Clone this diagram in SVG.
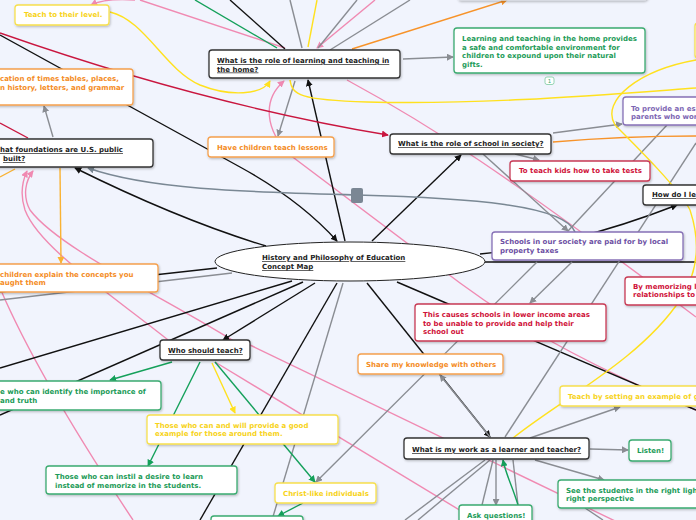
<svg xmlns="http://www.w3.org/2000/svg" width="696" height="520" viewBox="0 0 696 520">
<style>
.t{font-family:"DejaVu Sans","Verdana",sans-serif;font-weight:bold;font-size:7px}
.u{text-decoration:underline;fill:#222}
.box{fill:#fff;stroke-width:1.3;filter:url(#sh)}
.bk{stroke:#333}.yl{stroke:#f7e04e}.or{stroke:#f5a04e}.gr{stroke:#3aaa70}.rd{stroke:#c83a55}.pu{stroke:#8670b6}
.tyl{fill:#f7d31a}.tor{fill:#f48c25}.tgr{fill:#1c9b58}.trd{fill:#cf1239}.tpu{fill:#6d4fa3}.tpu2{fill:#7d66b3}
.c{fill:none;stroke-width:1.4}
.cb{stroke:#111}.cg{stroke:#8a8d93}.cs{stroke:#7a8894;stroke-width:1.6}.cp{stroke:#f08ab2}.cr{stroke:#c9163f}.co{stroke:#f7932a}.ca{stroke:#f9b233}.cy{stroke:#ffe11f}.cn{stroke:#14a05a}
</style>
<defs>
<filter id="sh" x="-10%" y="-20%" width="120%" height="160%"><feDropShadow dx="0.8" dy="1.2" stdDeviation="0.8" flood-color="#000" flood-opacity="0.25"/></filter>
<marker id="ab" viewBox="0 0 8 8" refX="7" refY="4" markerWidth="7" markerHeight="7" markerUnits="userSpaceOnUse" orient="auto"><path d="M0,0 L8,4 L0,8 z" fill="#111"/></marker>
<marker id="ag" viewBox="0 0 8 8" refX="7" refY="4" markerWidth="7" markerHeight="7" markerUnits="userSpaceOnUse" orient="auto"><path d="M0,0 L8,4 L0,8 z" fill="#8a8d93"/></marker>
<marker id="as" viewBox="0 0 8 8" refX="7" refY="4" markerWidth="7" markerHeight="7" markerUnits="userSpaceOnUse" orient="auto"><path d="M0,0 L8,4 L0,8 z" fill="#7a8894"/></marker>
<marker id="ap" viewBox="0 0 8 8" refX="7" refY="4" markerWidth="7" markerHeight="7" markerUnits="userSpaceOnUse" orient="auto"><path d="M0,0 L8,4 L0,8 z" fill="#f08ab2"/></marker>
<marker id="ar" viewBox="0 0 8 8" refX="7" refY="4" markerWidth="7" markerHeight="7" markerUnits="userSpaceOnUse" orient="auto"><path d="M0,0 L8,4 L0,8 z" fill="#c9163f"/></marker>
<marker id="ao" viewBox="0 0 8 8" refX="7" refY="4" markerWidth="7" markerHeight="7" markerUnits="userSpaceOnUse" orient="auto"><path d="M0,0 L8,4 L0,8 z" fill="#f7932a"/></marker>
<marker id="aa" viewBox="0 0 8 8" refX="7" refY="4" markerWidth="7" markerHeight="7" markerUnits="userSpaceOnUse" orient="auto"><path d="M0,0 L8,4 L0,8 z" fill="#f9b233"/></marker>
<marker id="ay" viewBox="0 0 8 8" refX="7" refY="4" markerWidth="7" markerHeight="7" markerUnits="userSpaceOnUse" orient="auto"><path d="M0,0 L8,4 L0,8 z" fill="#ffe11f"/></marker>
<marker id="an" viewBox="0 0 8 8" refX="7" refY="4" markerWidth="7" markerHeight="7" markerUnits="userSpaceOnUse" orient="auto"><path d="M0,0 L8,4 L0,8 z" fill="#14a05a"/></marker>
</defs>
<rect x="0" y="0" width="696" height="520" fill="#f1f4fd"/>
<g id="connectors">
<path class="c cp" d="M285,48 L140,0"/>
<path class="c cp" d="M135,0 Q105,-2 91,5" marker-end="url(#ap)"/>
<path class="c cp" d="M375,0 L317,48" marker-end="url(#ap)"/>
<path class="c cp" d="M696,410 C610,375 530,335 460,283 L290,155 C265,130 262,100 284,81" marker-end="url(#ap)"/>
<path class="c cp" d="M347,80 C430,125 500,170 696,317"/>
<path class="c cp" d="M250,345 L696,560"/>
<path class="c cp" d="M215,362 L476,520"/>
<path class="c cp" d="M240,345 C170,300 60,250 30,210 C22,195 26,180 33,171" marker-end="url(#ap)"/>
<path class="c cp" d="M183,352 C120,300 40,250 25,210 C20,195 22,182 27,171" marker-end="url(#ap)"/>
<path class="c cp" d="M0,288 C20,335 60,410 133,520"/>
<path class="c cb" d="M0,35 L240,167 Q300,200 337,241" marker-end="url(#ab)"/>
<path class="c cb" d="M266,246 Q180,220 75,168" marker-end="url(#ab)"/>
<path class="c cb" d="M230,0 L285,49"/>
<path class="c cb" d="M345,241 L308,80" marker-end="url(#ab)"/>
<path class="c cb" d="M372,241 L461,155" marker-end="url(#ab)"/>
<path class="c cb" d="M480,254 C540,248 600,235 677,205" marker-end="url(#ab)"/>
<path class="c cb" d="M485,262 L696,262"/>
<path class="c cb" d="M397,282 L696,410"/>
<path class="c cb" d="M367,283 L490,437" marker-end="url(#ab)"/>
<path class="c cb" d="M315,283 L223,340" marker-end="url(#ab)"/>
<path class="c cb" d="M292,281 L0,368"/>
<path class="c cb" d="M303,282 L0,415"/>
<path class="c cb" d="M217,268 L0,292"/>
<path class="c cb" d="M337,283 L200,520"/>
<path class="c cg" d="M403,59 L453,57" marker-end="url(#ag)"/>
<path class="c cg" d="M295,81 L278,136" marker-end="url(#ag)"/>
<path class="c cg" d="M53,137 L44,106" marker-end="url(#ag)"/>
<path class="c cg" d="M290,0 L302,48"/>
<path class="c cg" d="M357,0 L318,48"/>
<path class="c cg" d="M410,0 L330,50"/>
<path class="c cs" d="M575,232 C565,205 470,198 357,195 C250,192 150,190 88,168" marker-end="url(#as)"/>
<path class="c cg" d="M553,133 L622,124" marker-end="url(#ag)"/>
<path class="c cg" d="M515,154 L539,160" marker-end="url(#ag)"/>
<path class="c cg" d="M483,154 L568,231" marker-end="url(#ag)"/>
<path class="c cg" d="M667,125 L568,231"/>
<path class="c cg" d="M572,262 L530,303" marker-end="url(#ag)"/>
<path class="c cg" d="M537,262 L316,482" marker-end="url(#ag)"/>
<path class="c cg" d="M696,143 L505,437"/>
<path class="c cg" d="M343,283 L272,520"/>
<path class="c cg" d="M485,460 L405,520"/>
<path class="c cg" d="M490,460 L418,520"/>
<path class="c cg" d="M530,438 L620,407" marker-end="url(#ag)"/>
<path class="c cg" d="M590,449 L628,450" marker-end="url(#ag)"/>
<path class="c cg" d="M535,460 L604,480" marker-end="url(#ag)"/>
<path class="c cg" d="M496,460 L496,505" marker-end="url(#ag)"/>
<path class="c cg" d="M493,460 L482,505"/>
<path class="c cg" d="M513,460 L518,505"/>
<path class="c cg" d="M585,508 L603,520"/>
<path class="c cg" d="M490,437 L440,375" marker-end="url(#ag)"/>
<path class="c cg" d="M232,273 L0,300"/>
<path class="c cr" d="M0,33 C120,75 250,112 388,135" marker-end="url(#ar)"/>
<path class="c cr" d="M0,123 L28,138"/>
<path class="c co" d="M352,49 L507,0" marker-end="url(#ao)"/>
<path class="c co" d="M553,142 C600,138 650,136 696,136"/>
<path class="c ca" d="M60,168 L61,263" marker-end="url(#aa)"/>
<path class="c ca" d="M0,177 L15,169"/>
<path class="c cy" d="M110,12 C145,20 165,70 200,85 C230,97 262,95 270,81" marker-end="url(#ay)"/>
<path class="c cy" d="M290,80 C292,95 300,100 367,102 C480,105 600,95 696,88"/>
<path class="c cy" d="M317,0 L308,47"/>
<path class="c cy" d="M513,438 C560,400 640,360 680,300 C700,270 700,240 690,210 C680,190 640,150 615,125 C600,100 640,70 696,60"/>
<path class="c cy" d="M212,363 L235,413" marker-end="url(#ay)"/>
<path class="c cn" d="M195,0 L277,48"/>
<path class="c cn" d="M172,362 L110,380" marker-end="url(#an)"/>
<path class="c cn" d="M200,362 L148,466" marker-end="url(#an)"/>
<path class="c cn" d="M215,362 L315,482" marker-end="url(#an)"/>
<path class="c cn" d="M303,503 L278,516" marker-end="url(#an)"/>
<path class="c cn" d="M518,505 C512,485 506,475 503,460" marker-end="url(#an)"/>
</g>
<g id="n_topbox"><rect class="box" x="458" y="-30" width="189" height="30" rx="3" stroke="#d8dbe2"/></g>
<g id="n_topright"><rect class="box yl" x="695" y="23" width="30" height="35" rx="3"/></g>
<g id="n_teachlevel"><rect class="box yl" x="15" y="5" width="94" height="20" rx="3"/><text class="t tyl" x="24" y="16.5">Teach to their level.</text></g>
<g id="n_home"><rect class="box bk" x="209" y="50" width="191" height="28" rx="3"/><text class="t u" x="217" y="63">What is the role of learning and teaching in </text><text class="t u" x="217" y="71.5">the home?</text></g>
<g id="n_homeans"><rect class="box gr" x="454" y="28" width="191" height="45" rx="3"/><text class="t tgr" x="462" y="41">Learning and teaching in the home provides</text><text class="t tgr" x="462" y="49.5">a safe and comfortable environment for</text><text class="t tgr" x="462" y="58">children to expound upon their natural</text><text class="t tgr" x="462" y="66.5">gifts.</text></g>
<g id="n_badge"><rect x="545" y="77" width="9" height="7.5" rx="2" fill="#fff" stroke="#7ccaa0" stroke-width="0.8"/><text x="549.5" y="83" text-anchor="middle" font-family="DejaVu Sans" font-size="5.5" fill="#3aaa70">1</text></g>
<g id="n_rote"><rect class="box or" x="-5" y="69" width="138" height="36" rx="3"/><text class="t tor" x="0" y="81">cation of times tables, places,</text><text class="t tor" x="0" y="90">n history, letters, and grammar</text></g>
<g id="n_found"><rect class="box bk" x="-5" y="139" width="158" height="28" rx="3"/><text class="t u" x="0" y="152">hat foundations are U.S. public </text><text class="t u" x="3" y="161">built?</text></g>
<g id="n_haveteach"><rect class="box or" x="208" y="137" width="126" height="20" rx="3"/><text class="t tor" x="217" y="149.5">Have children teach lessons</text></g>
<g id="n_school"><rect class="box bk" x="390" y="134" width="161" height="20" rx="3"/><text class="t u" x="398" y="146">What is the role of school in society?</text></g>
<g id="n_provide"><rect class="box pu" x="623" y="97" width="80" height="28" rx="3"/><text class="t tpu2" x="631" y="110.5">To provide an es</text><text class="t tpu2" x="631" y="118.5">parents who wor</text></g>
<g id="n_tests"><rect class="box rd" x="510" y="161" width="140" height="20" rx="3"/><text class="t trd" x="519" y="172.5">To teach kids how to take tests</text></g>
<g id="n_howdo"><rect class="box bk" x="643" y="185" width="60" height="20" rx="3"/><text class="t u" x="652" y="197">How do I le</text></g>
<g id="n_marker"><rect x="351" y="188" width="12" height="15" rx="2" fill="#7b8794"/></g>
<g id="n_paid"><rect class="box pu" x="492" y="232" width="191" height="28" rx="3"/><text class="t tpu" x="500" y="244">Schools in our society are paid for by local</text><text class="t tpu" x="500" y="253">property taxes</text></g>
<g id="n_center"><ellipse cx="350" cy="261.5" rx="135" ry="19.5" fill="#fff" stroke="#222" stroke-width="1"/><text class="t u" x="262" y="260">History and Philosophy of Education </text><text class="t u" x="262" y="269">Concept Map</text></g>
<g id="n_memorize"><rect class="box rd" x="625" y="277" width="80" height="28" rx="3"/><text class="t trd" x="633" y="289">By memorizing l</text><text class="t trd" x="633" y="297">relationships to</text></g>
<g id="n_explain"><rect class="box or" x="-5" y="264" width="163" height="28" rx="3"/><text class="t tor" x="0" y="277">children explain the concepts you</text><text class="t tor" x="0" y="285">aught them</text></g>
<g id="n_causes"><rect class="box rd" x="415" y="304" width="191" height="37" rx="3"/><text class="t trd" x="423" y="317">This causes schools in lower income areas</text><text class="t trd" x="423" y="325.5">to be unable to provide and help their</text><text class="t trd" x="423" y="334">school out</text></g>
<g id="n_who"><rect class="box bk" x="160" y="340" width="90" height="20" rx="3"/><text class="t u" x="168" y="353">Who should teach?</text></g>
<g id="n_share"><rect class="box or" x="358" y="354" width="145" height="20" rx="3"/><text class="t tor" x="366" y="367">Share my knowledge with others</text></g>
<g id="n_identify"><rect class="box gr" x="-5" y="381" width="166" height="29" rx="3"/><text class="t tgr" x="0" y="394">e who can identify the importance of</text><text class="t tgr" x="0" y="403">and truth</text></g>
<g id="n_setting"><rect class="box yl" x="560" y="386" width="140" height="20" rx="3"/><text class="t tyl" x="568" y="399">Teach by setting an example of g</text></g>
<g id="n_example"><rect class="box yl" x="147" y="415" width="191" height="29" rx="3"/><text class="t tyl" x="155" y="428">Those who can and will provide a good</text><text class="t tyl" x="155" y="436">example for those around them.</text></g>
<g id="n_work"><rect class="box bk" x="404" y="438" width="185" height="21" rx="3"/><text class="t u" x="412" y="452">What is my work as a learner and teacher?</text></g>
<g id="n_listen"><rect class="box gr" x="629" y="440" width="42" height="21" rx="3"/><text class="t tgr" x="637" y="452.5">Listen!</text></g>
<g id="n_instil"><rect class="box gr" x="46" y="466" width="191" height="28" rx="3"/><text class="t tgr" x="55" y="479">Those who can instil a desire to learn</text><text class="t tgr" x="55" y="488">instead of memorize in the students.</text></g>
<g id="n_see"><rect class="box gr" x="558" y="480" width="145" height="28" rx="3"/><text class="t tgr" x="566" y="493">See the students in the right ligh</text><text class="t tgr" x="566" y="501">right perspective</text></g>
<g id="n_christ"><rect class="box yl" x="275" y="483" width="101" height="20" rx="3"/><text class="t tyl" x="283" y="496">Christ-like individuals</text></g>
<g id="n_ask"><rect class="box gr" x="459" y="505" width="73" height="25" rx="3"/><text class="t tgr" x="467" y="517.5">Ask questions!</text></g>
<g id="n_bottomgreen"><rect class="box gr" x="211" y="516" width="92" height="20" rx="3"/></g>
</svg>
